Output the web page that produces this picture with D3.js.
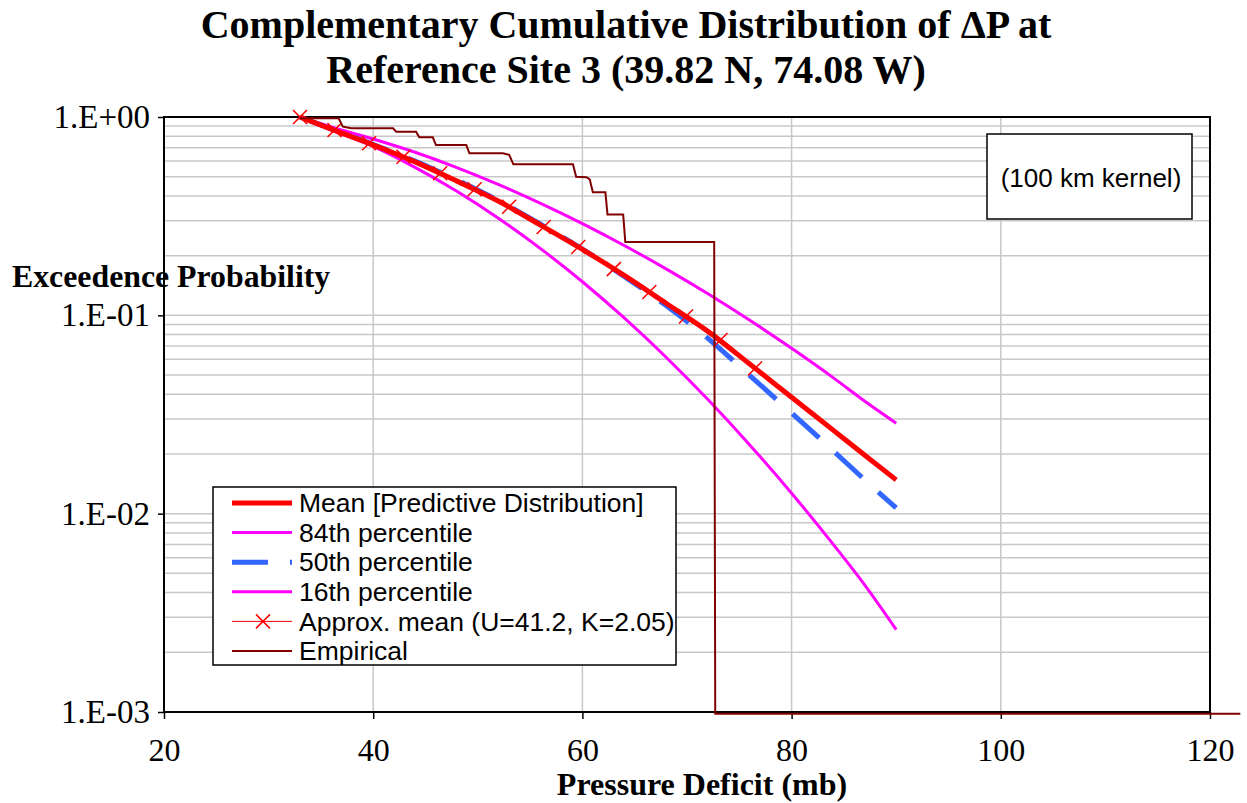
<!DOCTYPE html>
<html>
<head>
<meta charset="utf-8">
<script src="https://cdn.jsdelivr.net/npm/d3@7"></script>
<style>
  body { margin: 0; background: #fff; }
  svg { display: block; }
</style>
</head>
<body>
<svg id="chart" width="1247" height="803"></svg>
<script>
// ---- Data: pressure deficit (mb) vs. exceedence probability ----
const curveX = [33, 36, 40, 44, 48, 52, 56, 60, 64, 68, 72, 76, 80, 84, 87, 90];
const meanP  = [1.0, 0.868, 0.724, 0.594, 0.475, 0.376, 0.285, 0.215, 0.159, 0.115, 0.083, 0.0568, 0.0386, 0.0263, 0.0197, 0.0148];
const p84    = [1.0, 0.890, 0.775, 0.664, 0.556, 0.456, 0.367, 0.290, 0.225, 0.1715, 0.1284, 0.0944, 0.0682, 0.0484, 0.0369, 0.0286];
const p50    = [1.0, 0.870, 0.727, 0.599, 0.481, 0.378, 0.288, 0.216, 0.157, 0.112, 0.0765, 0.0497, 0.0322, 0.0207, 0.0148, 0.0107];
const p16    = [1.0, 0.860, 0.711, 0.557, 0.422, 0.308, 0.217, 0.1477, 0.0970, 0.0615, 0.0376, 0.0222, 0.01268, 0.00698, 0.00436, 0.0026];

const approxX = [33, 36.3, 39.6, 42.9, 46.4, 49.7, 53.0, 56.3, 59.6, 63.0, 66.4, 69.9, 73.2, 76.5];
const approxP = [1.0, 0.860, 0.737, 0.631, 0.520, 0.432, 0.353, 0.279, 0.221, 0.171, 0.131, 0.0986, 0.0751, 0.054];

const empX = [33, 36.7, 37.1, 37.9, 41.9, 42.2, 44.1, 44.4, 45.7, 46.0, 48.9, 49.2, 52.4, 53.0, 53.4, 59.1, 59.4, 60.4, 60.7, 61.0, 62.2, 62.4, 63.9, 64.1, 72.6, 72.7, 122.9];
const empP = [0.985, 0.985, 0.894, 0.877, 0.877, 0.843, 0.843, 0.790, 0.790, 0.722, 0.722, 0.656, 0.656, 0.645, 0.577, 0.577, 0.500, 0.497, 0.485, 0.417, 0.417, 0.322, 0.322, 0.234, 0.234, 0.00098, 0.00098];

const xTicks = [20, 40, 60, 80, 100, 120];
const yTicks = [1, 0.1, 0.01, 0.001];
const yTickLabels = ["1.E+00", "1.E-01", "1.E-02", "1.E-03"];

const legendLabels = [
  "Mean [Predictive Distribution]",
  "84th percentile",
  "50th percentile",
  "16th percentile",
  "Approx. mean (U=41.2, K=2.05)",
  "Empirical"
];

// ---- Layout ----
const plot = { left: 164, right: 1210, top: 117, bottom: 712 };
const SERIF = "'Liberation Serif', 'Times New Roman', serif";
const SANS = "'Liberation Sans', Arial, sans-serif";

const svg = d3.select("#chart");
const x = d3.scaleLinear().domain([20, 120]).range([plot.left, plot.right]);
const y = d3.scaleLog().domain([1e-3, 1]).range([plot.bottom, plot.top]);

svg.append("rect").attr("width", 1247).attr("height", 803).attr("fill", "#fff");

// ---- Gridlines ----
const grid = svg.append("g").attr("stroke", "#c8c8c8").attr("stroke-width", 1.5);
grid.selectAll("line.h")
  .data(y.ticks().filter(v => v > 1e-3 * 1.0001 && v < 0.9999))
  .join("line")
  .attr("x1", plot.left).attr("x2", plot.right)
  .attr("y1", d => y(d)).attr("y2", d => y(d));
grid.selectAll("line.v")
  .data(xTicks.slice(1, -1))
  .join("line")
  .attr("x1", d => x(d)).attr("x2", d => x(d))
  .attr("y1", plot.top).attr("y2", plot.bottom);

// ---- Axes ----
const yAxis = d3.axisLeft(y)
  .tickValues(yTicks)
  .tickFormat((d, i) => yTickLabels[i])
  .tickSize(6).tickPadding(8);
const gy = svg.append("g").attr("transform", `translate(${plot.left},0)`).call(yAxis);
gy.select(".domain").remove();
gy.selectAll("text").attr("font-family", SERIF).attr("font-size", 33).attr("fill", "#000");
gy.selectAll("line").attr("stroke", "#000").attr("stroke-width", 1.5);

const xAxis = d3.axisBottom(x).tickValues(xTicks).tickSize(7).tickPadding(19);
const gx = svg.append("g").attr("transform", `translate(0,${plot.bottom})`).call(xAxis);
gx.select(".domain").remove();
gx.selectAll("text").attr("font-family", SERIF).attr("font-size", 32).attr("fill", "#000");
gx.selectAll("line").attr("stroke", "#000").attr("stroke-width", 1.5);

// ---- Plot frame ----
svg.append("rect")
  .attr("x", plot.left).attr("y", plot.top)
  .attr("width", plot.right - plot.left).attr("height", plot.bottom - plot.top)
  .attr("fill", "none").attr("stroke", "#000").attr("stroke-width", 2);

// ---- Series ----
const line = d3.line().x(d => x(d[0])).y(d => y(d[1]));
const zip = (xs, ps) => xs.map((v, i) => [v, ps[i]]);
const curveLine = d3.line().curve(d3.curveMonotoneX).x(d => x(d[0])).y(d => y(d[1]));

svg.append("path").datum(zip(curveX, p84)).attr("d", curveLine)
  .attr("fill", "none").attr("stroke", "#ff00ff").attr("stroke-width", 3);
svg.append("path").datum(zip(curveX, p16)).attr("d", curveLine)
  .attr("fill", "none").attr("stroke", "#ff00ff").attr("stroke-width", 3);
svg.append("path").datum(zip(curveX, p50)).attr("d", curveLine)
  .attr("fill", "none").attr("stroke", "#3366ff").attr("stroke-width", 5)
  .attr("stroke-dasharray", "36,22");
svg.append("path").datum(zip(curveX, meanP)).attr("d", curveLine)
  .attr("fill", "none").attr("stroke", "#ff0000").attr("stroke-width", 5);

// approximate-mean line with X markers
svg.append("path").datum(zip(approxX, approxP)).attr("d", line)
  .attr("fill", "none").attr("stroke", "#ff0000").attr("stroke-width", 1);
const xMark = "M-7,-7L7,7M-7,7L7,-7";
svg.append("g").selectAll("path")
  .data(zip(approxX, approxP))
  .join("path")
  .attr("transform", d => `translate(${x(d[0])},${y(d[1])})`)
  .attr("d", xMark)
  .attr("stroke", "#ff0000").attr("stroke-width", 1.5).attr("fill", "none");

// empirical distribution
svg.append("path").datum(zip(empX, empP)).attr("d", line)
  .attr("fill", "none").attr("stroke", "#800000").attr("stroke-width", 2);

// ---- Titles ----
const title = svg.append("text")
  .attr("text-anchor", "middle")
  .attr("font-family", SERIF).attr("font-weight", "bold").attr("font-size", 40)
  .attr("fill", "#000");
title.append("tspan").attr("x", 626).attr("y", 38).text("Complementary Cumulative Distribution of \u0394P at");
title.append("tspan").attr("x", 626).attr("y", 83).text("Reference Site 3 (39.82 N, 74.08 W)");

svg.append("text")
  .attr("x", 12).attr("y", 287)
  .attr("font-family", SERIF).attr("font-weight", "bold").attr("font-size", 31.8)
  .text("Exceedence Probability");

svg.append("text")
  .attr("x", 702).attr("y", 795).attr("text-anchor", "middle")
  .attr("font-family", SERIF).attr("font-weight", "bold").attr("font-size", 32)
  .text("Pressure Deficit (mb)");

// ---- Kernel note ----
svg.append("rect").attr("x", 987).attr("y", 134).attr("width", 205).attr("height", 85)
  .attr("fill", "#fff").attr("stroke", "#000").attr("stroke-width", 1.5);
svg.append("text").attr("x", 1091).attr("y", 187).attr("text-anchor", "middle")
  .attr("font-family", SANS).attr("font-size", 26)
  .text("(100 km kernel)");

// ---- Legend ----
const legend = svg.append("g");
legend.append("rect").attr("x", 213).attr("y", 487).attr("width", 463).attr("height", 178)
  .attr("fill", "#fff").attr("stroke", "#000").attr("stroke-width", 1.5);
const legendStyles = [
  { color: "#ff0000", width: 5 },
  { color: "#ff00ff", width: 3 },
  { color: "#3366ff", width: 5, dash: "36,22" },
  { color: "#ff00ff", width: 3 },
  { color: "#ff0000", width: 1, marker: true },
  { color: "#800000", width: 2 }
];
const rowY = i => 503 + i * 29.6;
legendLabels.forEach((label, i) => {
  const s = legendStyles[i];
  const ly = rowY(i);
  const l = legend.append("line")
    .attr("x1", 232).attr("x2", 292).attr("y1", ly).attr("y2", ly)
    .attr("stroke", s.color).attr("stroke-width", s.width);
  if (s.dash) l.attr("stroke-dasharray", s.dash);
  if (s.marker) {
    legend.append("path").attr("transform", `translate(263,${ly})`).attr("d", xMark)
      .attr("stroke", s.color).attr("stroke-width", 1.5).attr("fill", "none");
  }
  legend.append("text").attr("x", 299).attr("y", ly).attr("dy", "0.35em")
    .attr("font-family", SANS).attr("font-size", 26.5).text(label);
});
</script>
</body>
</html>
